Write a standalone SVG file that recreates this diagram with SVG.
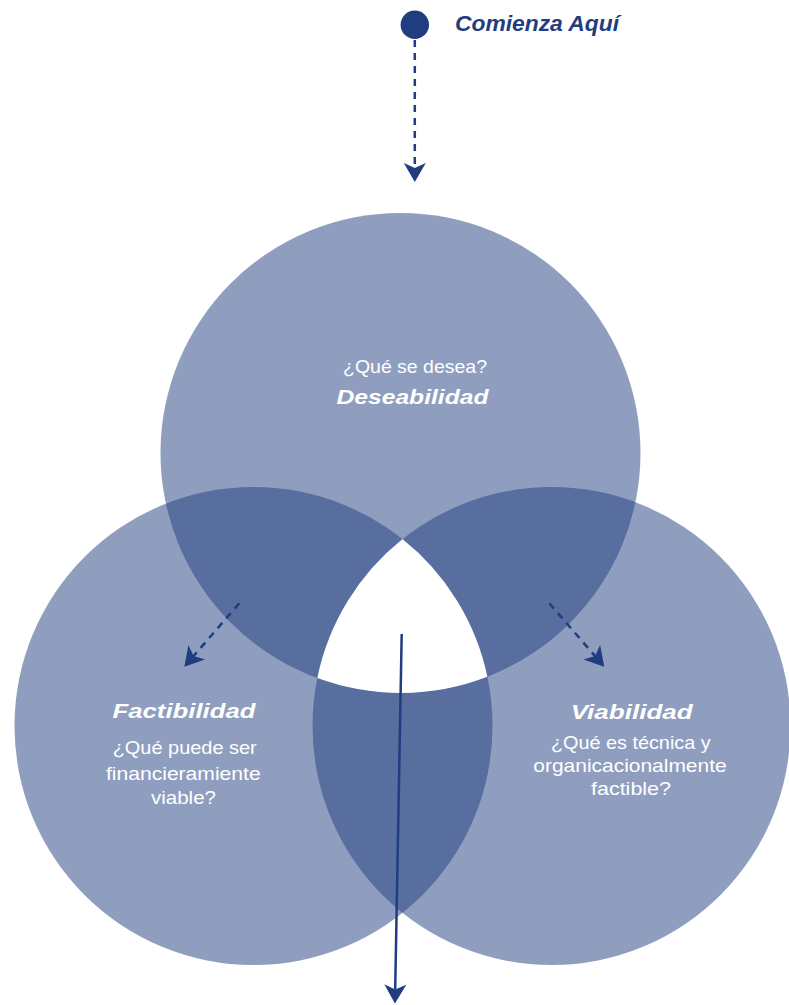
<svg xmlns="http://www.w3.org/2000/svg" width="789" height="1005" viewBox="0 0 789 1005">
  <style>
    .set { fill: #1F3D7F; fill-opacity: 0.5; }
    .title { font-family: "Liberation Sans", Arial, sans-serif; font-weight: bold; font-style: italic; font-size: 21px; fill: #FFFFFF; text-anchor: middle; }
    .q { font-family: "Liberation Sans", Arial, sans-serif; font-size: 18.5px; fill: #FFFFFF; text-anchor: middle; }
    .start { font-family: "Liberation Sans", Arial, sans-serif; font-weight: bold; font-style: italic; font-size: 22px; fill: #1F3D7F; }
    .dash { fill: none; stroke: #1F3D7F; stroke-width: 2.5; stroke-dasharray: 7 6; marker-end: url(#stealth); }
    .solid { fill: none; stroke: #1F3D7F; stroke-width: 2.5; marker-end: url(#stealth); }
  </style>
  <defs>
    <marker id="stealth" viewBox="-6 -12 21 24" refX="0" refY="0" markerWidth="21" markerHeight="24" markerUnits="userSpaceOnUse" orient="auto">
      <path d="M14,0 L-5,-11 L0,0 L-5,11 Z" fill="#1F3D7F"/>
    </marker>
  </defs>
  <rect width="789" height="1005" fill="#FFFFFF"/>

  <g id="node-deseabilidad">
    <circle class="set" cx="400.5" cy="453" r="240"/>
    <text class="q" x="415" y="373" textLength="144" lengthAdjust="spacingAndGlyphs">¿Qué se desea?</text>
    <text class="title" x="412.5" y="404" textLength="152" lengthAdjust="spacingAndGlyphs">Deseabilidad</text>
  </g>

  <g id="node-factibilidad">
    <circle class="set" cx="253.5" cy="726" r="239"/>
    <text class="title" x="184" y="717.5" textLength="143" lengthAdjust="spacingAndGlyphs">Factibilidad</text>
    <text class="q" x="184.7" y="754" textLength="144" lengthAdjust="spacingAndGlyphs">¿Qué puede ser</text>
    <text class="q" x="183.3" y="779.5" textLength="154.7" lengthAdjust="spacingAndGlyphs">financieramiente</text>
    <text class="q" x="183.5" y="803.5" textLength="65" lengthAdjust="spacingAndGlyphs">viable?</text>
  </g>

  <g id="node-viabilidad">
    <circle class="set" cx="551.5" cy="726" r="239"/>
    <text class="title" x="631.7" y="719" textLength="122" lengthAdjust="spacingAndGlyphs">Viabilidad</text>
    <text class="q" x="630.8" y="748.5" textLength="159.7" lengthAdjust="spacingAndGlyphs">¿Qué es técnica y</text>
    <text class="q" x="630" y="771.5" textLength="193.3" lengthAdjust="spacingAndGlyphs">organicacionalmente</text>
    <text class="q" x="631" y="795" textLength="80" lengthAdjust="spacingAndGlyphs">factible?</text>
  </g>

  <g id="center-intersection">
    <path d="M402.5,539.1 A239,239 0 0 0 317.3,678.1 A240,240 0 0 0 487.4,676.7 A239,239 0 0 0 402.5,539.1 Z" fill="#FFFFFF"/>
  </g>

  <g id="node-start">
    <circle cx="414.8" cy="24.8" r="14.2" fill="#1F3D7F"/>
    <text class="start" x="455" y="31" textLength="164" lengthAdjust="spacingAndGlyphs">Comienza Aquí</text>
  </g>

  <g id="connectors">
    <line class="dash" x1="414.8" y1="40" x2="414.8" y2="168"/>
    <line class="dash" x1="239.3" y1="603.3" x2="193.5" y2="656.1"/>
    <line class="dash" x1="549.3" y1="603.3" x2="595.1" y2="656.1"/>
    <line class="solid" x1="401.7" y1="634" x2="395.2" y2="989.5"/>
  </g>
</svg>
